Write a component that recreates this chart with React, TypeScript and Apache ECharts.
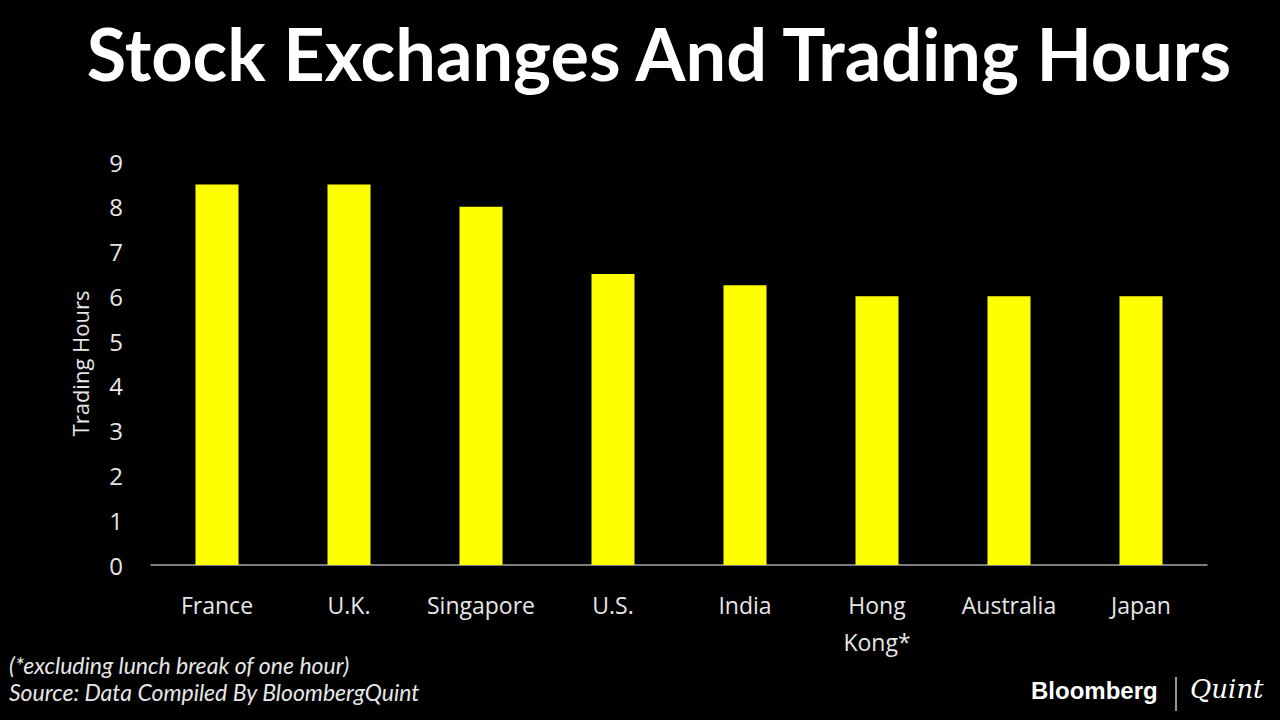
import React, { useEffect, useRef } from "react";
import * as echarts from "echarts";

const categories = ["France", "U.K.", "Singapore", "U.S.", "India", "Hong\nKong*", "Australia", "Japan"];
const tradingHours = [8.5, 8.5, 8, 6.5, 6.25, 6, 6, 6];
const yTicks = { min: 0, max: 9, interval: 1 };

export default function App() {
  const ref = useRef<HTMLDivElement>(null);
  useEffect(() => {
    document.body.style.margin = "0";
    document.body.style.background = "#000";
    const chart = echarts.init(ref.current!, null, { renderer: "svg" });
    chart.setOption({
      animation: false,
      backgroundColor: "#000000",
      title: {
        text: "Stock Exchanges And Trading Hours",
        left: 654,
        textAlign: "center",
        top: 12,
        textStyle: { color: "#ffffff", fontFamily: "Lato", fontWeight: "bold", fontSize: 72 },
      },
      grid: { left: 151, right: 73, top: 162, bottom: 155 },
      xAxis: {
        type: "category",
        data: categories,
        axisLine: { lineStyle: { color: "#a6a6a6", width: 1.5 } },
        axisTick: { show: false },
        axisLabel: {
          color: "#e6e6e6",
          fontFamily: "Open Sans",
          fontSize: 23,
          margin: 21,
          lineHeight: 37,
          interval: 0,
        },
      },
      yAxis: {
        type: "value",
        min: yTicks.min,
        max: yTicks.max,
        interval: yTicks.interval,
        name: "Trading Hours",
        nameLocation: "middle",
        nameGap: 60,
        nameRotate: 90,
        nameTextStyle: { color: "#e6e6e6", fontFamily: "Open Sans", fontSize: 22 },
        axisLine: { show: false },
        axisTick: { show: false },
        splitLine: { show: false },
        axisLabel: { color: "#e6e6e6", fontFamily: "Open Sans", fontSize: 24, margin: 28 },
      },
      series: [
        {
          type: "bar",
          data: tradingHours,
          barWidth: 43,
          itemStyle: { color: "#ffff00" },
        },
      ],
      graphic: [
        {
          type: "text",
          left: 9,
          top: 651,
          style: {
            text: "(*excluding lunch break of one hour)\nSource: Data Compiled By BloombergQuint",
            fill: "#e6e6e6",
            font: "italic 23px Lato",
            lineHeight: 27,
          },
        },
        {
          type: "text",
          left: 1031,
          top: 678,
          style: { text: "Bloomberg", fill: "#ffffff", font: "bold 24px 'Liberation Sans'" },
        },
        {
          type: "line",
          shape: { x1: 1176, y1: 677, x2: 1176, y2: 711 },
          style: { stroke: "#cccccc", lineWidth: 1.5 },
        },
        {
          type: "text",
          left: 1190,
          top: 676,
          style: { text: "Quint", fill: "#ffffff", font: "italic 26px 'DejaVu Serif'" },
        },
      ],
    });
    return () => chart.dispose();
  }, []);
  return <div ref={ref} style={{ position: "absolute", left: 0, top: 0, width: 1280, height: 720 }} />;
}
